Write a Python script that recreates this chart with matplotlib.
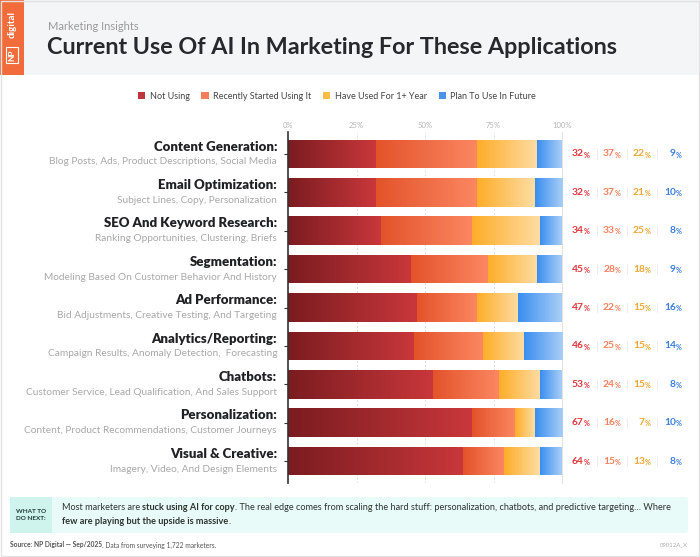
import matplotlib
matplotlib.use("Agg")
import matplotlib.pyplot as plt
import numpy as np
from matplotlib.patches import Rectangle, Patch, FancyBboxPatch
from matplotlib.colors import LinearSegmentedColormap
import matplotlib.transforms as mtransforms

plt.rcParams['font.family'] = ['Lato', 'DejaVu Sans']

# data
apps = ["Content Generation:", "Email Optimization:", "SEO And Keyword Research:",
        "Segmentation:", "Ad Performance:", "Analytics/Reporting:", "Chatbots:",
        "Personalization:", "Visual & Creative:"]
details = ["Blog Posts, Ads, Product Descriptions, Social Media",
           "Subject Lines, Copy, Personalization",
           "Ranking Opportunities, Clustering, Briefs",
           "Modeling Based On Customer Behavior And History",
           "Bid Adjustments, Creative Testing, And Targeting",
           "Campaign Results, Anomaly Detection,  Forecasting",
           "Customer Service, Lead Qualification, And Sales Support",
           "Content, Product Recommendations, Customer Journeys",
           "Imagery, Video, And Design Elements"]
categories = ["Not Using", "Recently Started Using It", "Have Used For 1+ Year", "Plan To Use In Future"]
not_using = [32, 32, 34, 45, 47, 46, 53, 67, 64]
recently = [37, 37, 33, 28, 22, 25, 24, 16, 15]
have_used = [22, 21, 25, 18, 15, 15, 15, 7, 13]
plan = [9, 10, 8, 9, 16, 14, 8, 10, 8]
x_ticks = [0, 25, 50, 75, 100]

series = [not_using, recently, have_used, plan]
grad = [("#7a1c20", "#c9373b"), ("#e3532a", "#fb8762"),
        ("#fdad28", "#fedda4"), ("#3a8ef0", "#a9cef6")]
legend_col = ["#c0353a", "#f47e5a", "#fdbb4a", "#4a92ea"]
text_col = ["#e0383e", "#f5815e", "#eea733", "#3d7fdc"]

W, H = 700, 557
fig = plt.figure(figsize=(7, 5.57), dpi=100)
fig.patch.set_facecolor("white")

def fx(px):
    return px / W

def fy(py):
    return 1 - py / H

# header
fig.add_artist(Rectangle((0, fy(75)), 1, 75 / H, transform=fig.transFigure,
                         facecolor="#f4f5f7", edgecolor="none", zorder=0))
fig.add_artist(Rectangle((0, fy(75)), fx(24), 75 / H, transform=fig.transFigure,
                         facecolor="#f26b3a", edgecolor="none", zorder=1))
fig.text(fx(12), fy(25), "digital", rotation=90, color="white", fontsize=7,
         ha="center", va="center", fontweight="bold")
fig.text(fx(12), fy(55), "NP", rotation=90, color="white", fontsize=6,
         ha="center", va="center", fontweight="bold",
         bbox=dict(boxstyle="square,pad=0.3", fc="none", ec="white", lw=0.8))
fig.text(fx(48), fy(26), "Marketing Insights", color="#9a9a9a", fontsize=8,
         ha="left", va="center")
fig.text(fx(47), fy(48), "Current Use Of AI In Marketing For These Applications",
         color="#26282b", fontsize=16.8, fontweight="bold", ha="left", va="center")

# legend
handles = [Patch(facecolor=c, edgecolor="none", label=l) for c, l in zip(legend_col, categories)]
fig.legend(handles=handles, loc="center", bbox_to_anchor=(fx(337), fy(96)), ncol=4,
           frameon=False, fontsize=6.5, handlelength=0.8, handleheight=0.8,
           handletextpad=0.5, columnspacing=1.3, labelcolor="#444444")

# axes
ax = fig.add_axes([fx(288), fy(483), fx(562) - fx(288), (483 - 132) / H])
ax.set_facecolor("none")
y = np.arange(len(apps))
bh = 0.74
left = np.zeros(len(apps))
for vals, (c0, c1) in zip(series, grad):
    cmap = LinearSegmentedColormap.from_list("g", [c0, c1])
    bars = ax.barh(y, vals, left=left, height=bh, color=c1, edgecolor="none", zorder=2)
    for b in bars:
        x0, y0 = b.get_x(), b.get_y()
        w, h = b.get_width(), b.get_height()
        im = ax.imshow(np.linspace(0, 1, 256).reshape(1, -1), cmap=cmap, aspect="auto",
                       extent=(x0, x0 + w, y0 + h, y0), zorder=3, interpolation="bicubic")
        im.set_clip_path(b)
    left = left + np.array(vals)

ax.set_xlim(0, 100)
ax.set_ylim(len(apps) - 0.5 + 0.07, -0.5 - 0.07)
ax.xaxis.tick_top()
ax.set_xticks(x_ticks)
ax.set_xticklabels([f"{t}%" for t in x_ticks])
ax.tick_params(axis="x", length=0, labelsize=5.5, labelcolor="#b5b5b5", pad=2)
ax.set_yticks(y)
ax.set_yticklabels([])
ax.tick_params(axis="y", length=3, width=0.8, color="#333333")
for t in x_ticks[1:-1]:
    ax.axvline(t, color="#dddddd", lw=0.7, ls=(0, (2, 2)), zorder=1)
for s in ["top", "bottom"]:
    ax.spines[s].set_visible(False)
ax.spines["left"].set_color("#333333")
ax.spines["left"].set_linewidth(1.2)
ax.spines["left"].set_zorder(5)
ax.spines["right"].set_color("#e3e3e3")
ax.spines["right"].set_linewidth(0.8)

# row labels
tr = mtransforms.blended_transform_factory(fig.transFigure, ax.transData)
for i in range(len(apps)):
    ax.text(fx(277), i - 0.19, apps[i], transform=tr, ha="right", va="center",
            fontsize=9.5, fontweight="heavy", color="#1f2124")
    ax.text(fx(277), i + 0.21, details[i], transform=tr, ha="right", va="center",
            fontsize=7.3, color="#a8a8a8")

# value columns
col_x = [580, 611, 641, 672]
sep_x = [597, 627, 657]
for i in range(len(apps)):
    for k, vals in enumerate(series):
        ax.text(fx(col_x[k] + 4), i, str(vals[i]), transform=tr, ha="right", va="center",
                fontsize=7.4, fontweight="bold", color=text_col[k])
        ax.text(fx(col_x[k] + 4), i + 0.03, "%", transform=tr, ha="left", va="center",
                fontsize=5.2, fontweight="bold", color=text_col[k])
    for sx in sep_x:
        ax.plot([fx(sx), fx(sx)], [i - 0.13, i + 0.13], transform=tr, color="#eeeeee",
                lw=0.8, clip_on=False)

# bottom note box
fig.add_artist(FancyBboxPatch((fx(10), fy(533)), fx(688) - fx(10), (533 - 497) / H,
                              boxstyle="round,pad=0,rounding_size=0.004",
                              transform=fig.transFigure, facecolor="#e9fbf8",
                              edgecolor="none", zorder=0))
fig.add_artist(Rectangle((fx(10), fy(533)), fx(52) - fx(10), (533 - 497) / H,
                         transform=fig.transFigure, facecolor="#cff3ed",
                         edgecolor="none", zorder=0))
fig.text(fx(31), fy(515), "WHAT TO\nDO NEXT:", ha="center", va="center", fontsize=4.6,
         fontweight="bold", color="#1d3b36", linespacing=1.3)

fig.canvas.draw()
renderer = fig.canvas.get_renderer()

def rich(x, yy, parts, size, color):
    for s, bold in parts:
        t = fig.text(x, yy, s, ha="left", va="center", fontsize=size, color=color,
                     fontweight="bold" if bold else "normal")
        bb = t.get_window_extent(renderer)
        x = bb.x1 / fig.bbox.width

rich(fx(62), fy(507), [("Most marketers are ", False), ("stuck using AI for copy", True),
     (". The real edge comes from scaling the hard stuff: personalization, chatbots, "
      "and predictive targeting\u2026 Where", False)], 6.6, "#2d3331")
rich(fx(62), fy(522), [("few are playing but the upside is massive", True), (".", False)],
     6.6, "#2d3331")
rich(fx(10), fy(545), [("Source: NP Digital \u2014 Sep/2025", True),
     (". Data from surveying 1,722 marketers.", False)], 4.8, "#555555")
fig.text(fx(688), fy(545), "09012A_X", ha="right", va="center", fontsize=4.3, color="#aaaaaa")

# outer border
fig.add_artist(Rectangle((0.001, 0.001), 0.998, 0.998, transform=fig.transFigure,
                         facecolor="none", edgecolor="#e2e2e2", lw=1, zorder=10))

fig.savefig("out.png", dpi=100)
